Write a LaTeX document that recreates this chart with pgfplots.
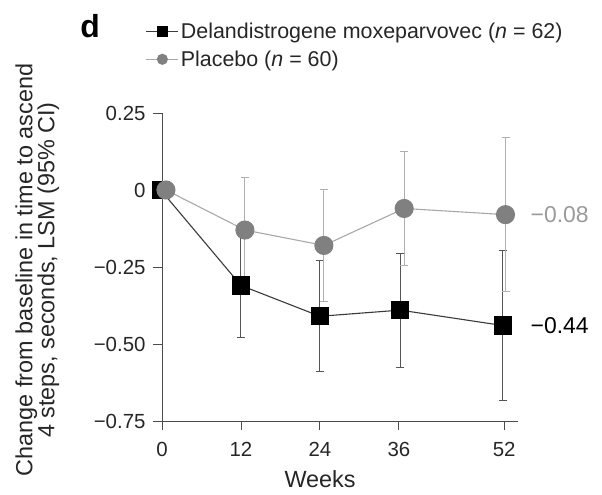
\documentclass[border=0pt]{standalone}
\usepackage{fontspec}
\setmainfont{Liberation Sans}
\usepackage{pgfplots}
\pgfplotsset{compat=1.18}
\definecolor{blkline}{HTML}{3A3A3A}
\definecolor{blkerr}{HTML}{555555}
\definecolor{grymark}{HTML}{808080}
\definecolor{gryline}{HTML}{A8A8A8}
\definecolor{gryerr}{HTML}{B0B0B0}
\definecolor{grytext}{HTML}{9A9A9A}
\begin{document}
\begin{tikzpicture}
\path[use as bounding box] (0,0) rectangle (602bp,495bp);
\begin{axis}[
  at={(162bp,74bp)}, anchor=south west,
  scale only axis, width=356bp, height=308bp,
  xmin=0, xmax=54.1, ymin=-0.75, ymax=0.25,
  axis lines=left,
  axis line style={-, line width=0.9bp, black!70},
  clip=false,
  xtick={0,12,24,36,52},
  ytick={-0.75,-0.5,-0.25,0,0.25},
  yticklabels={−0.75,−0.50,−0.25,0,0.25},
  xticklabels={0,12,24,36,52},
  major tick length=9bp,
  tick align=outside,
  tick style={line width=0.9bp, black!70},
  ticklabel style={font=\fontsize{20.5}{20.5}\selectfont, text=black!85},
  xticklabel style={yshift=-9bp},
  yticklabel style={xshift=-4bp},
  xlabel={Weeks},
  xlabel style={at={(axis description cs:0.444,-0.188)}, anchor=center, font=\fontsize{23.5}{23.5}\selectfont, text=black!85},
  ylabel={Change from baseline in time to ascend\\4 steps, seconds, LSM (95\% CI)},
  ylabel style={at={(axis description cs:-0.35,0.49)}, anchor=center, align=center, font=\fontsize{23.5}{22}\selectfont, text=black!85},
  legend style={at={(rel axis cs:-0.046,1.30)}, anchor=north west, draw=none, fill=none,
    font=\fontsize{21.5}{21.5}\selectfont, text=black!85, row sep=7bp, inner sep=0pt,
    /tikz/every even column/.append style={column sep=6bp}},
  legend cell align=left,
  legend image code/.code={
    \draw[mark repeat=2,mark phase=2,#1,mark size=5bp] plot coordinates {(0bp,0bp)(16bp,0bp)(32bp,0bp)};
  },
]
\addplot[blkline, line width=1.1bp, mark=square*, mark size=8.5bp,
  mark options={fill=black, draw=black, solid},
  error bars/.cd, y dir=both, y explicit,
  error bar style={blkerr, line width=1bp},
  error mark options={rotate=90, blkerr, mark size=4bp, line width=1bp}]
  coordinates {
  (-0.2,0) +- (0,0)
  (12,-0.31) +- (0,0.17)
  (24,-0.41) +- (0,0.18)
  (36.2,-0.39) +- (0,0.185)
  (51.8,-0.44) +- (0,0.245)
  };
\addlegendentry{Delandistrogene moxeparvovec (\textit{n} = 62)}
\addplot[gryline, line width=1.1bp, mark=*, mark size=9bp,
  mark options={fill=grymark, draw=grymark, solid},
  error bars/.cd, y dir=both, y explicit,
  error bar style={gryerr, line width=1bp},
  error mark options={rotate=90, gryerr, mark size=4bp, line width=1bp}]
  coordinates {
  (0.6,0) +- (0,0)
  (12.6,-0.13) +- (0,0.172)
  (24.6,-0.18) +- (0,0.182)
  (36.8,-0.06) +- (0,0.185)
  (52.2,-0.08) +- (0,0.25)
  };
\addlegendentry{Placebo (\textit{n} = 60)}
\node[anchor=west, font=\fontsize{23}{23}\selectfont, text=grytext] at (axis cs:55.5,-0.08) {−0.08};
\node[anchor=west, font=\fontsize{23}{23}\selectfont, text=black] at (axis cs:55.5,-0.44) {−0.44};
\node[font=\fontsize{32}{32}\selectfont\bfseries] at (rel axis cs:-0.202,1.282) {d};
\end{axis}
\end{tikzpicture}
\end{document}
